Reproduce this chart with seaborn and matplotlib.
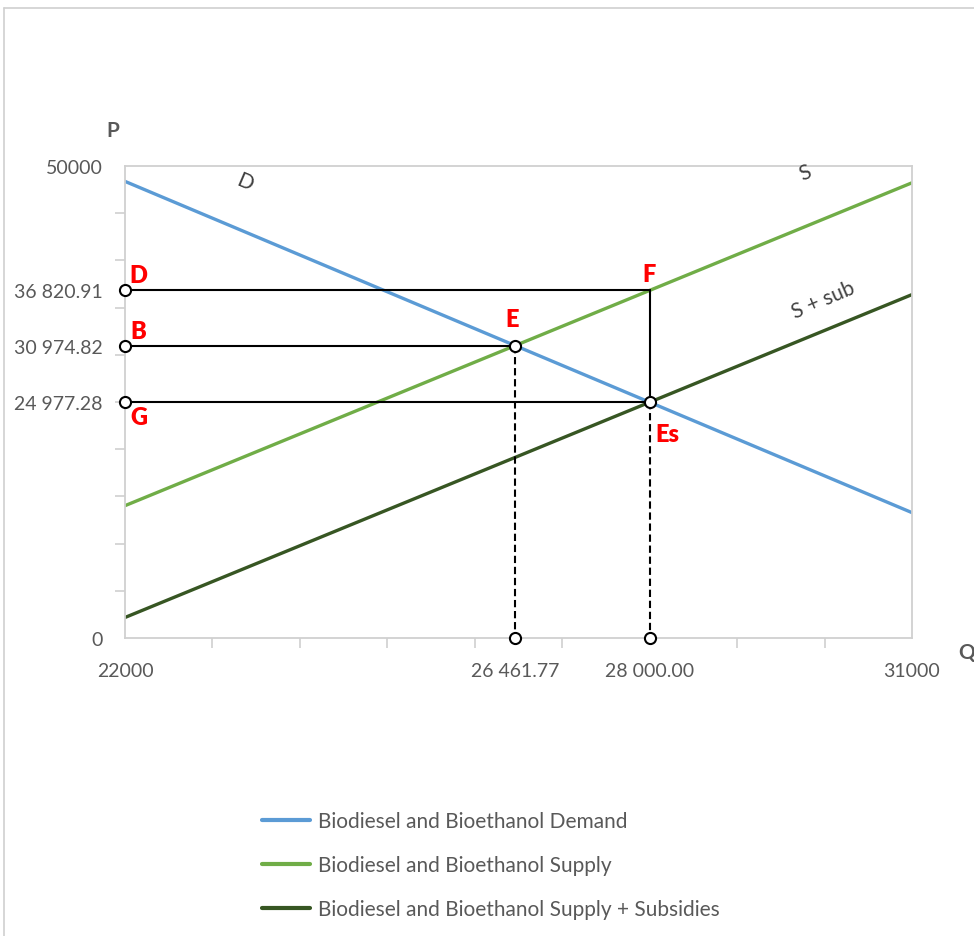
import matplotlib.pyplot as plt
import pandas as pd
import seaborn as sns
from matplotlib.lines import Line2D

# Line end points (quantity range and prices)
q_range = [22000, 31000]
demand = [48371, 13280]
supply = [14018, 48223]
supply_sub = [2174, 36379]
series_names = ['Biodiesel and Bioethanol Demand',
                'Biodiesel and Bioethanol Supply',
                'Biodiesel and Bioethanol Supply + Subsidies']
series_colors = ['#5B9BD5', '#70AD47', '#375623']

# Key points
q_e = 26461.77
q_es = 28000.00
p_d = 36820.91
p_b = 30974.82
p_g = 24977.28

y_ticks = [0, p_g, p_b, p_d, 50000]
y_labels = ['0', '24 977.28', '30 974.82', '36 820.91', '50000']
x_ticks = [22000, q_e, q_es, 31000]
x_labels = ['22000', '26 461.77', '28 000.00', '31000']

sns.set_style('white')
plt.rcParams['font.family'] = ['Lato', 'DejaVu Sans']

grey = '#595959'
spine_c = '#d0d0d0'

fig = plt.figure(figsize=(9.74, 9.37), dpi=100)
ax = fig.add_axes([125 / 974, 1 - 639 / 937, 787 / 974, 472 / 937])

df = pd.DataFrame({
    'q': q_range * 3,
    'p': demand + supply + supply_sub,
    'series': [n for n in series_names for _ in q_range],
})
sns.lineplot(data=df, x='q', y='p', hue='series', palette=dict(zip(series_names, series_colors)),
             linewidth=2.4, ax=ax, legend=False)

# helper lines
ax.plot([q_range[0], q_es], [p_d, p_d], color='black', lw=1.5, zorder=3)
ax.plot([q_range[0], q_e], [p_b, p_b], color='black', lw=1.5, zorder=3)
ax.plot([q_range[0], q_es], [p_g, p_g], color='black', lw=1.5, zorder=3)
ax.plot([q_es, q_es], [p_d, p_g], color='black', lw=1.5, zorder=3)
ax.plot([q_e, q_e], [p_b, 0], color='black', lw=1.5, ls=(0, (3.5, 1.8)), zorder=3)
ax.plot([q_es, q_es], [p_g, 0], color='black', lw=1.5, ls=(0, (3.5, 1.8)), zorder=3)

pts_x = [q_range[0], q_range[0], q_range[0], q_e, q_es, q_e, q_es]
pts_y = [p_d, p_b, p_g, p_b, p_g, 0, 0]
ax.plot(pts_x, pts_y, 'o', ms=8, mfc='white', mec='black', mew=1.5, clip_on=False, zorder=6)

# red point labels
lab_kw = dict(textcoords='offset pixels', color='#ff0000', fontsize=17, fontweight='heavy',
              ha='center', va='center', zorder=7)
ax.annotate('D', (q_range[0], p_d), xytext=(13, 15), **lab_kw)
ax.annotate('B', (q_range[0], p_b), xytext=(13, 15), **lab_kw)
ax.annotate('G', (q_range[0], p_g), xytext=(14, -15), **lab_kw)
ax.annotate('E', (q_e, p_b), xytext=(-3, 27), **lab_kw)
ax.annotate('F', (q_es, p_d), xytext=(-1, 16), **lab_kw)
ax.annotate('Es', (q_es, p_g), xytext=(18, -32), **lab_kw)

# curve names
name_kw = dict(fontsize=15, color='#404040', ha='center', va='center')
ax.text(23372, 48305, 'D', rotation=-23, **name_kw)
ax.text(29776, 49364, 'S', rotation=23, **name_kw)
ax.text(29982, 35911, 'S + sub', rotation=23, **name_kw)

ax.set_xlim(q_range)
ax.set_ylim(0, 50000)
ax.set_xticks(x_ticks, x_labels)
ax.set_yticks(y_ticks, y_labels)
ax.set_xticks(range(22000, 31001, 1000), minor=True)
ax.set_yticks(range(0, 50001, 5000), minor=True)
ax.tick_params(which='major', length=0, labelsize=14, labelcolor=grey)
ax.tick_params(axis='x', which='major', pad=17)
ax.tick_params(axis='y', which='major', pad=16)
ax.tick_params(which='minor', bottom=True, left=True, length=7, width=1.2,
               color=spine_c, direction='out')
ax.set_xlabel('')
ax.set_ylabel('')
for s in ax.spines.values():
    s.set_color(spine_c)
    s.set_linewidth(1.3)

fig.text(113 / 974, 1 - 131 / 937, 'P', fontsize=15, fontweight='bold', color=grey,
         ha='center', va='center')
fig.text(958 / 974, 1 - 653 / 937, 'Q', fontsize=15, fontweight='bold', color=grey,
         ha='left', va='center')

# outer frame
fig.add_artist(Line2D([4 / 974, 1], [1 - 9 / 937, 1 - 9 / 937], color=spine_c, lw=1.2))
fig.add_artist(Line2D([4 / 974, 4 / 974], [0, 1 - 9 / 937], color=spine_c, lw=1.2))

handles = [Line2D([], [], color=c, lw=3) for c in series_colors]
fig.legend(handles, series_names, loc='center left', bbox_to_anchor=(262 / 974, 1 - 866 / 937),
           frameon=False, fontsize=15, handlelength=2.3, handletextpad=0.4,
           labelspacing=1.15, borderpad=0, borderaxespad=0, labelcolor=grey)

fig.savefig('out.png')
